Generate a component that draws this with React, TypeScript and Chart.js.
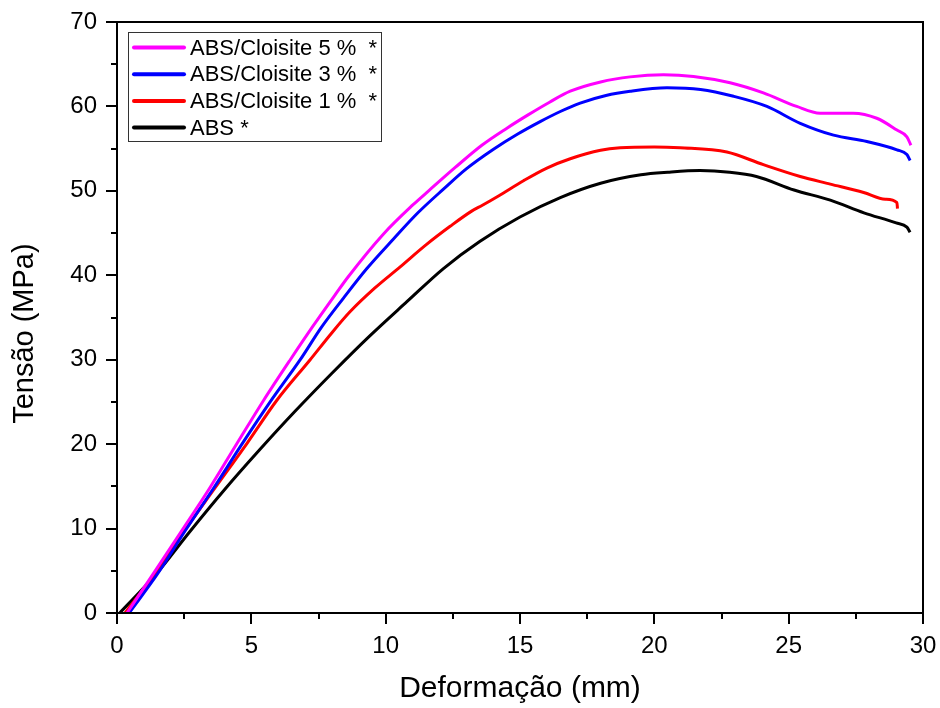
import React, { useEffect, useRef } from 'react';
import { Chart, registerables } from 'chart.js';

Chart.register(...registerables);

const FONT = "'Liberation Sans', Arial, Helvetica, sans-serif";

const seriesLabels = ['ABS/Cloisite 5 %  *', 'ABS/Cloisite 3 %  *', 'ABS/Cloisite 1 %  *', 'ABS *'];
const seriesColors = ['#FF00FF', '#0000FF', '#FF0000', '#000000'];

// ABS/Cloisite 5 %
const x5 = [0.37, 1.36, 2.42, 3.47, 4.47, 5.46, 6.45, 7.3, 8.1, 8.6, 9.92, 11.0, 11.6, 12.6, 13.58, 14.5, 15.3, 16.1, 16.87, 18.0, 19.1, 20.34, 21.46, 22.82, 24.06, 25.3, 26.17, 27.4, 28.28, 29.03, 29.4, 29.55];
const y5 = [0, 4.7, 9.8, 14.9, 20.1, 25.2, 30.0, 34.0, 37.6, 39.8, 44.9, 48.3, 50.0, 52.8, 55.4, 57.4, 59.0, 60.5, 61.8, 62.9, 63.5, 63.75, 63.55, 62.8, 61.6, 60.0, 59.2, 59.2, 58.6, 57.2, 56.4, 55.4];

// ABS/Cloisite 3 %
const x3 = [0.45, 1.5, 2.55, 3.6, 4.65, 5.7, 6.82, 7.6, 8.43, 9.3, 10.29, 11.2, 12.15, 13.0, 14.0, 14.9, 15.75, 16.5, 17.24, 18.2, 19.1, 20.47, 21.72, 22.95, 24.19, 25.43, 26.67, 27.91, 29.03, 29.4, 29.52];
const y3 = [0, 4.6, 9.8, 14.8, 20.0, 25.0, 30.0, 33.8, 37.3, 40.8, 44.3, 47.4, 50.2, 52.6, 54.9, 56.7, 58.2, 59.4, 60.4, 61.3, 61.8, 62.2, 62.0, 61.2, 60.0, 58.0, 56.6, 55.85, 54.86, 54.3, 53.6];

// ABS/Cloisite 1 %
const x1 = [0.3, 1.4, 2.5, 3.6, 4.84, 5.95, 7.19, 8.0, 8.68, 9.6, 10.54, 11.5, 12.4, 13.2, 13.6, 14.2, 15.13, 16.0, 16.87, 18.0, 18.73, 20.0, 20.96, 22.7, 24.06, 25.43, 26.55, 27.79, 28.6, 29.03, 29.05];
const y1 = [0, 4.6, 9.7, 14.6, 20.1, 25.2, 30.0, 33.2, 35.7, 38.5, 41.0, 43.6, 45.8, 47.6, 48.3, 49.4, 51.2, 52.7, 53.8, 54.8, 55.1, 55.2, 55.1, 54.6, 53.1, 51.7, 50.8, 49.8, 49.0, 48.6, 47.9];

// ABS
const x0 = [0.1, 1.4, 2.7, 4.0, 5.3, 6.6, 8.0, 9.4, 10.8, 12.15, 13.5, 15.0, 16.5, 18.0, 19.5, 20.5, 21.7, 22.8, 23.8, 25.2, 26.55, 27.8, 29.0, 29.4, 29.52];
const y0 = [0, 4.4, 9.6, 14.6, 19.3, 23.8, 28.4, 32.8, 36.9, 40.8, 44.0, 46.9, 49.2, 50.9, 51.9, 52.2, 52.4, 52.2, 51.7, 50.1, 48.9, 47.4, 46.2, 45.7, 45.1];

const seriesX = [x5, x3, x1, x0];
const seriesY = [y5, y3, y1, y0];

const xMin = 0, xMax = 30, xStep = 5, xMinorStep = 2.5;
const yMin = 0, yMax = 70, yStep = 10, yMinorStep = 5;

const framePlugin = {
  id: 'framePlugin',
  afterDraw(chart: any) {
    const { ctx, chartArea: a, scales } = chart;
    const xs = scales.x;
    const ys = scales.y;
    ctx.save();
    ctx.strokeStyle = '#000';
    ctx.lineWidth = 2;
    ctx.lineCap = 'butt';
    ctx.beginPath();
    ctx.rect(a.left, a.top, a.right - a.left, a.bottom - a.top);
    ctx.stroke();
    ctx.beginPath();
    for (let v = xMin; v <= xMax + 1e-9; v += xMinorStep) {
      const px = Math.round(xs.getPixelForValue(v));
      const major = Math.abs(v / xStep - Math.round(v / xStep)) < 1e-6;
      ctx.moveTo(px, a.bottom);
      ctx.lineTo(px, a.bottom + (major ? 11 : 6));
    }
    for (let v = yMin; v <= yMax + 1e-9; v += yMinorStep) {
      const py = Math.round(ys.getPixelForValue(v));
      const major = Math.abs(v / yStep - Math.round(v / yStep)) < 1e-6;
      ctx.moveTo(a.left, py);
      ctx.lineTo(a.left - (major ? 11 : 6), py);
    }
    ctx.stroke();

    // legend
    const lx = 128.5, ly = 32.5, lw = 253, lh = 109;
    ctx.fillStyle = '#fff';
    ctx.fillRect(lx, ly, lw, lh);
    ctx.strokeStyle = '#333';
    ctx.lineWidth = 1;
    ctx.strokeRect(lx, ly, lw, lh);
    ctx.font = `22px ${FONT}`;
    ctx.textBaseline = 'middle';
    ctx.textAlign = 'left';
    chart.data.datasets.forEach((ds: any, i: number) => {
      const ry = 47.5 + i * 26.7;
      ctx.strokeStyle = ds.borderColor;
      ctx.lineWidth = 4;
      ctx.lineCap = 'round';
      ctx.beginPath();
      ctx.moveTo(134, ry);
      ctx.lineTo(184, ry);
      ctx.stroke();
      ctx.fillStyle = '#000';
      ctx.fillText(ds.label, 190, ry + 1);
    });
    ctx.restore();
  },
};

const zeroPad = (s: any) => {
  s.paddingTop = 0;
  s.paddingBottom = 0;
  s.paddingLeft = 0;
  s.paddingRight = 0;
};

export default function App() {
  const ref = useRef<HTMLCanvasElement | null>(null);

  useEffect(() => {
    if (!ref.current) return;
    const datasets = seriesLabels.map((label, i) => ({
      label,
      data: seriesX[i].map((x, j) => ({ x, y: seriesY[i][j] })),
      borderColor: seriesColors[i],
      backgroundColor: seriesColors[i],
      borderWidth: 3,
      pointRadius: 0,
      cubicInterpolationMode: 'monotone' as const,
      fill: false,
    }));
    const chart = new Chart(ref.current, {
      type: 'line',
      data: { datasets },
      options: {
        animation: false,
        responsive: false,
        devicePixelRatio: 1,
        layout: { padding: { top: 22, right: 17, left: 0, bottom: 0 } },
        plugins: { legend: { display: false }, tooltip: { enabled: false } },
        scales: {
          x: {
            type: 'linear',
            min: xMin,
            max: xMax,
            grid: { display: false, drawTicks: false },
            border: { display: false },
            ticks: {
              stepSize: xStep,
              autoSkip: false,
              maxRotation: 0,
              color: '#000',
              padding: 19,
              font: { size: 24, family: FONT },
            },
            title: {
              display: true,
              text: 'Deformação (mm)',
              color: '#000',
              font: { size: 30, family: FONT },
              padding: { top: 0, bottom: 1 },
            },
            afterFit: (s: any) => {
              s.height = 95;
              zeroPad(s);
            },
          },
          y: {
            type: 'linear',
            min: yMin,
            max: yMax,
            grid: { display: false, drawTicks: false },
            border: { display: false },
            ticks: {
              stepSize: yStep,
              color: '#000',
              padding: 20,
              font: { size: 24, family: FONT },
            },
            title: {
              display: true,
              text: 'Tensão (MPa)    ',
              color: '#000',
              font: { size: 29, family: FONT },
              padding: { top: 8, bottom: 0 },
            },
            afterFit: (s: any) => {
              s.width = 117;
              zeroPad(s);
            },
          },
        },
      },
      plugins: [framePlugin],
    });
    return () => chart.destroy();
  }, []);

  return (
    <div style={{ position: 'absolute', left: 0, top: 0, width: 940, height: 708, background: '#fff' }}>
      <canvas ref={ref} width={940} height={708} style={{ display: 'block' }} />
    </div>
  );
}
